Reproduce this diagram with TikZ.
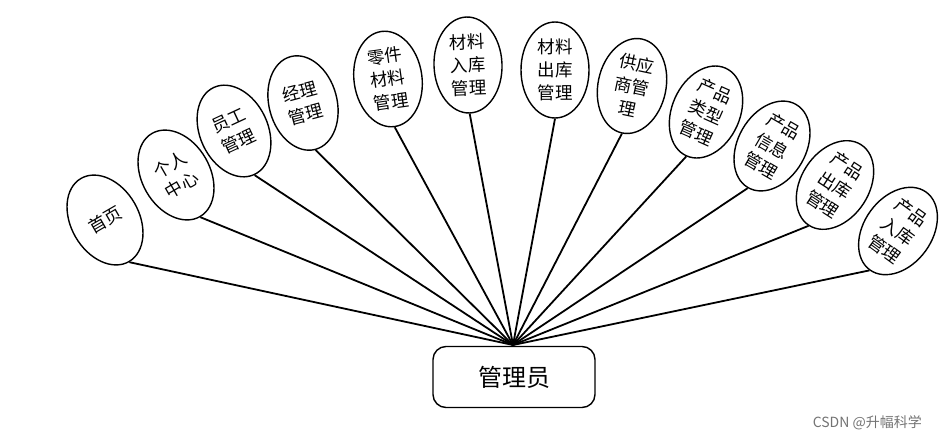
\documentclass[tikz,border=0pt]{standalone}
\usepackage{fontspec}
\newfontfamily\cjk{Noto Sans CJK SC}
\usetikzlibrary{shapes.geometric}
\begin{document}
\begin{tikzpicture}[x=1pt,y=-1pt,
  leaf/.style={draw=black,line width=1.4pt,ellipse,minimum width=68pt,minimum height=96pt,inner sep=0pt,align=center,font=\cjk\fontsize{17.5}{23}\selectfont,fill=white},
  hubbox/.style={draw=black,line width=1.4pt,rounded corners=13pt,minimum width=162pt,minimum height=61pt,inner sep=0pt,font=\cjk\fontsize{24}{28}\selectfont},
  link/.style={line width=1.8pt,black}]
\useasboundingbox (0,0) rectangle (939,442);
\coordinate (hub) at (513,345);
\node[hubbox] (admin) at (514,377) {管理员};
\node[leaf,rotate=30] (n1) at (105,220) {首页};
\node[leaf,rotate=30] (n2) at (176,175) {个人\\中心};
\node[leaf,rotate=25] (n3) at (234,131) {员工\\管理};
\node[leaf,rotate=15] (n4) at (303,103) {经理\\管理};
\node[leaf,rotate=8] (n5) at (388,79) {零件\\材料\\管理};
\node[leaf,rotate=2] (n6) at (468,65) {材料\\入库\\管理};
\node[leaf,rotate=0] (n7) at (555,70) {材料\\出库\\管理};
\node[leaf,rotate=-12] (n8) at (632,86) {供应\\商管\\理};
\node[leaf,rotate=-24] (n9) at (706,112) {产品\\类型\\管理};
\node[leaf,rotate=-30] (n10) at (772,146) {产品\\信息\\管理};
\node[leaf,rotate=-33] (n11) at (835,185) {产品\\出库\\管理};
\node[leaf,rotate=-36] (n12) at (898,231) {产品\\入库\\管理};
\foreach \n in {n1,n2,n3,n4,n5,n6,n7,n8,n9,n10,n11,n12}
  \draw[link] (\n.south) -- (hub);
\node[font=\cjk\fontsize{14}{16}\selectfont,text=black!55,anchor=east,inner sep=0pt] (wm) at (922,423) {CSDN @升幅科学};
\end{tikzpicture}
\end{document}
